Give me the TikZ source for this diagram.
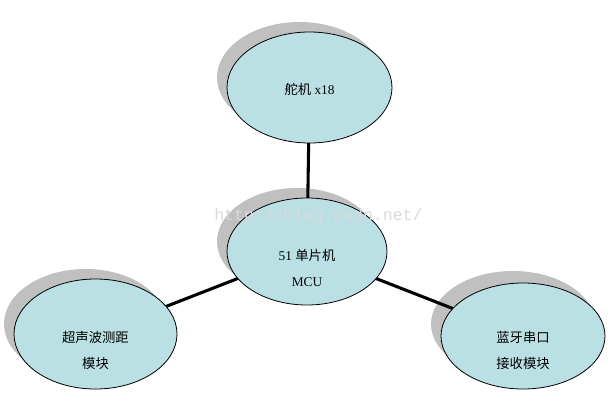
\documentclass[tikz,border=0pt]{standalone}
\usepackage{fontspec}
\setmainfont{Liberation Serif}
\newfontfamily\cjk{Noto Sans CJK SC}
\newfontfamily\wmfont{Liberation Mono}
\definecolor{bub}{HTML}{BBE0E4}
\definecolor{shad}{HTML}{C0C0C0}
\definecolor{wm}{HTML}{DADADA}
\begin{document}
\begin{tikzpicture}[x=0.75pt,y=-0.75pt,
  bubble/.style={ellipse, draw=black, line width=0.6pt, fill=bub},
  shadowell/.style={fill=shad, draw=none},
  link/.style={line width=2.3pt},
  lbl/.style={font=\fontsize{10pt}{12pt}\selectfont, align=center}]
\useasboundingbox (0,0) rectangle (611,403);
% shadows
\fill[shad] (299.5,77.5) ellipse [x radius=82.5, y radius=55.5];
\fill[shad] (297,241.5) ellipse [x radius=80, y radius=53.5];
\fill[shad] (85.5,324) ellipse [x radius=81.5, y radius=55];
\fill[shad] (513,324) ellipse [x radius=82, y radius=53];
% anchor coordinates (centres)
\coordinate (ct) at (309.5,87.5);
\coordinate (cc) at (307,251.5);
\coordinate (cl) at (95.5,334);
\coordinate (cr) at (523,336);
% links
\draw[link] (ct) -- (cc);
\draw[link] (cl) -- (cc);
\draw[link] (cr) -- (cc);
% front ellipses
\draw[fill=bub, line width=0.6pt] (ct) ellipse [x radius=82.5, y radius=55.5];
\draw[fill=bub, line width=0.6pt] (cc) ellipse [x radius=80, y radius=53.5];
\draw[fill=bub, line width=0.6pt] (cl) ellipse [x radius=81.5, y radius=55];
\draw[fill=bub, line width=0.6pt] (cr) ellipse [x radius=82, y radius=53];
% watermark
\node[text=wm, font=\wmfont\fontsize{12.4pt}{14pt}\selectfont, anchor=west, inner sep=0] (wmk) at (214,216) {http://blog.csdn.net/};
% labels
\node[lbl] (t1) at (309.5,89) {{\cjk 舵机} x18};
\node[lbl] (c1) at (307,255) {51 {\cjk 单片机}};
\node[lbl] (c2) at (307,282) {MCU};
\node[lbl] (l1) at (95.5,337) {\cjk 超声波测距};
\node[lbl] (l2) at (95.5,363) {\cjk 模块};
\node[lbl] (r1) at (523,337) {\cjk 蓝牙串口};
\node[lbl] (r2) at (523,363) {\cjk 接收模块};
\end{tikzpicture}
\end{document}
